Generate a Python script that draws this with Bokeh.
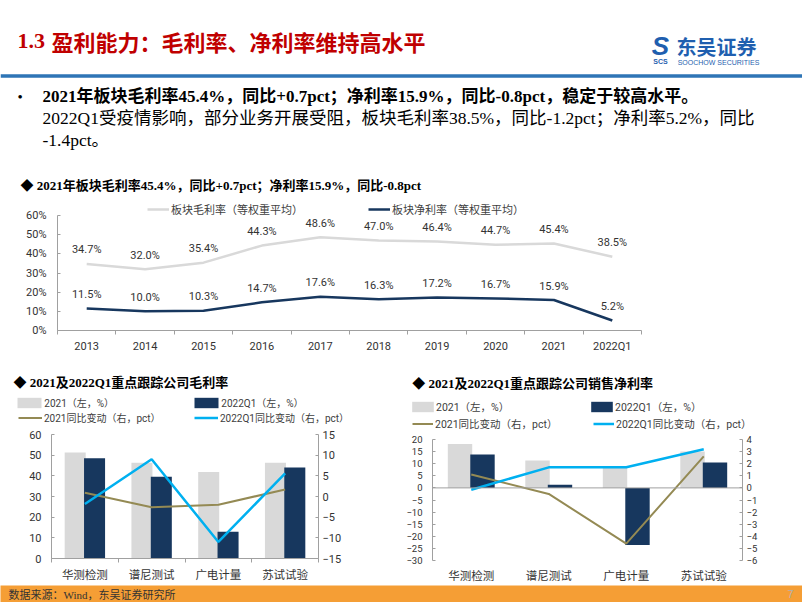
from bokeh.plotting import figure
from bokeh.models import (Range1d, LinearAxis, FixedTicker, PrintfTickFormatter, Label, LabelSet,
                          ColumnDataSource, Legend, LegendItem, Span)
from bokeh.layouts import column, row
from bokeh.transform import dodge
from bokeh.embed import file_html
from bokeh.resources import INLINE
from bokeh.core.properties import value

# ---------------- data ----------------
years = ["2013", "2014", "2015", "2016", "2017", "2018", "2019", "2020", "2021", "2022Q1"]
gross_margin = [34.7, 32.0, 35.4, 44.3, 48.6, 47.0, 46.4, 44.7, 45.4, 38.5]
net_margin = [11.5, 10.0, 10.3, 14.7, 17.6, 16.3, 17.2, 16.7, 15.9, 5.2]

companies = ["华测检测", "谱尼测试", "广电计量", "苏试试验"]
gm_2021 = [51.3, 46.3, 41.8, 46.3]
gm_2022q1 = [48.5, 39.5, 12.9, 44.0]
gm_2021_yoy = [0.9, -2.6, -2.0, 1.7]
gm_2022q1_yoy = [-1.8, 9.0, -11.0, 5.6]

nm_2021 = [18.1, 11.3, 8.2, 15.0]
nm_2022q1 = [13.8, 1.3, -23.6, 10.5]
nm_2021_yoy = [1.1, -0.5, -4.6, 2.6]
nm_2022q1_yoy = [-0.15, 1.7, 1.7, 3.2]

left_ticks_gm = [0, 10, 20, 30, 40, 50, 60]
right_ticks_gm = [-15, -10, -5, 0, 5, 10, 15]
left_ticks_nm = [-30, -25, -20, -15, -10, -5, 0, 5, 10, 15, 20]
right_ticks_nm = [-6, -5, -4, -3, -2, -1, 0, 1, 2, 3, 4]
pct_ticks = [0, 10, 20, 30, 40, 50, 60]

# ---------------- styles ----------------
SERIF = "'Liberation Serif', 'Noto Sans CJK SC'"
SANS = "Roboto, 'Noto Sans CJK SC'"
CJK = "'Noto Sans CJK SC'"
GRAY = "#D9D9D9"
NAVY = "#17375E"
OLIVE = "#948A54"
CYAN = "#00B0F0"
AXIS = "#A0A0A0"
TXT = "#333333"
ORANGE = "#F59E35"
NAN = float("nan")


def base_fig(w, h, xr, yr, **kw):
    f = figure(width=w, height=h, x_range=xr, y_range=yr, output_backend="svg",
               toolbar_location=None, x_axis_location=None, y_axis_location=None,
               frame_align=False, **kw)
    f.grid.visible = False
    f.outline_line_color = None
    f.background_fill_color = "white"
    f.border_fill_color = "white"
    return f


def lab(f, x, y, text, size, color="#000000", font=SERIF, style="normal", align="left"):
    f.add_layout(Label(x=x, y=y, text=text, text_font=font, text_font_size=size,
                       text_font_style=style, text_color=color, text_align=align,
                       text_baseline="middle"))


def style_axis(ax, size, font=SANS):
    ax.axis_line_color = AXIS
    ax.major_tick_line_color = AXIS
    ax.minor_tick_line_color = AXIS
    ax.major_label_text_font = font
    ax.major_label_text_font_size = size
    ax.major_label_text_color = TXT


def y_axis(ticks, size, standoff, **kw):
    ax = LinearAxis(ticker=FixedTicker(ticks=ticks), **kw)
    style_axis(ax, size)
    ax.major_tick_in = 3
    ax.major_tick_out = 0
    ax.minor_tick_in = 0
    ax.minor_tick_out = 0
    ax.major_label_standoff = standoff
    return ax


def x_axis(cats, size, standoff, show_line=True):
    centers = [i + 0.5 for i in range(len(cats))]
    bounds = [float(i) for i in range(len(cats) + 1)]
    ax = LinearAxis(ticker=FixedTicker(ticks=centers, minor_ticks=bounds if show_line else []))
    style_axis(ax, size)
    ax.major_label_overrides = {c: t for c, t in zip(centers, cats)}
    ax.major_tick_in = 0
    ax.major_tick_out = 0
    ax.minor_tick_in = 0
    ax.minor_tick_out = 4
    ax.major_label_standoff = standoff
    if not show_line:
        ax.axis_line_color = None
        ax.minor_tick_line_color = None
    return ax


def legend(items, loc, gw, gh, lw, standoff, size):
    return Legend(items=items, orientation="horizontal", location=loc, glyph_width=gw,
                  glyph_height=gh, label_height=gh, label_width=lw, label_standoff=standoff,
                  spacing=0, padding=0, margin=0, border_line_color=None,
                  background_fill_alpha=0, label_text_font=SANS, label_text_font_size=size,
                  label_text_color="#404040")


def legend_proxies(f):
    """Invisible (NaN) stand-ins so a text-only panel can carry the chart's legend swatches."""
    a = f.vbar(x=[NAN], top=[NAN], width=0.3, fill_color=GRAY, line_color=None)
    b = f.vbar(x=[NAN], top=[NAN], width=0.3, fill_color=NAVY, line_color=None)
    c = f.line(x=[NAN], y=[NAN], line_color=OLIVE, line_width=2)
    d = f.line(x=[NAN], y=[NAN], line_color=CYAN, line_width=2.5)
    return a, b, c, d


# ---------------- header (page y 0..195) ----------------
hdr = base_fig(802, 195, Range1d(0, 802), Range1d(195, 0), min_border=0)
lab(hdr, 17, 40, "1.3", "22px", "#C00000", "'Liberation Serif'", "bold")
lab(hdr, 51, 40, "盈利能力：毛利率、净利率维持高水平", "22px", "#C00000", CJK, "bold")
lab(hdr, 660, 45, "S", "26px", "#1F5FAF", "'Liberation Sans'", "bold italic", "center")
lab(hdr, 660, 60.5, "SCS", "7px", "#1F5FAF", "'Liberation Sans'", "bold", "center")
lab(hdr, 716, 45.5, "东吴证券", "20px", "#1F5FAF", CJK, "bold", "center")
lab(hdr, 718, 62, "SOOCHOW SECURITIES", "7px", "#1F5FAF", "'Liberation Sans'", "normal", "center")
hdr.add_layout(Span(location=75.5, dimension="width", line_color="#2E75B6", line_width=3.5))
lab(hdr, 17, 96, "•", "15px", "#000000")
lab(hdr, 42, 96, "2021年板块毛利率45.4%，同比+0.7pct；净利率15.9%，同比-0.8pct，稳定于较高水平。",
    "17px", "#000000", SERIF, "bold")
lab(hdr, 42, 117.5, "2022Q1受疫情影响，部分业务开展受阻，板块毛利率38.5%，同比-1.2pct；净利率5.2%，同比",
    "17.5px", "#000000")
lab(hdr, 42, 139.5, "-1.4pct。", "17.5px", "#000000")
lab(hdr, 20, 185, "◆ 2021年板块毛利率45.4%，同比+0.7pct；净利率15.9%，同比-0.8pct", "13px",
    "#000000", SERIF, "bold")

# ---------------- top line chart (page y 195..360) ----------------
top = base_fig(802, 165, Range1d(0, len(years)), Range1d(0, 67.83),
               min_border_left=57, min_border_right=161, min_border_top=5, min_border_bottom=30)
ya = y_axis(pct_ticks, "11px", 11)
ya.formatter = PrintfTickFormatter(format="%d%%")
ya.bounds = (0, 60)
top.add_layout(ya, "left")
top.add_layout(x_axis(years, "11px", 5), "below")

src_top = ColumnDataSource(dict(
    x=[i + 0.5 for i in range(len(years))], gross=gross_margin, net=net_margin,
    gross_lbl=[f"{v:.1f}%" for v in gross_margin], net_lbl=[f"{v:.1f}%" for v in net_margin]))
r_g = top.line("x", "gross", source=src_top, line_color=GRAY, line_width=2.5)
r_n = top.line("x", "net", source=src_top, line_color=NAVY, line_width=2.5)
for col, txt in (("gross", "gross_lbl"), ("net", "net_lbl")):
    top.add_layout(LabelSet(x="x", y=col, text=txt, source=src_top, y_offset=14,
                            text_align="center", text_baseline="middle", text_font=value(SANS),
                            text_font_size="11px", text_color=TXT))
top.add_layout(legend([LegendItem(label="板块毛利率（等权重平均）", renderers=[r_g]),
                       LegendItem(label="板块净利率（等权重平均）", renderers=[r_n])],
                      (90, 113.5), 22, 14, 197, 2, "11px"))

# ---------------- bottom left: gross margin (page x 0..400) ----------------
bl_txt = base_fig(400, 66, Range1d(0, 400), Range1d(426, 360), min_border=0)
lab(bl_txt, 13, 381.7, "◆ 2021及2022Q1重点跟踪公司毛利率", "13px", "#000000", SERIF, "bold")
pa, pb, pc, pd = legend_proxies(bl_txt)
bl_txt.add_layout(legend([LegendItem(label="2021（左，%）", renderers=[pa]),
                          LegendItem(label="2022Q1（左，%）", renderers=[pb])],
                         (14.3, 16.2), 30, 13, 147, 0, "10px"))
bl_txt.add_layout(legend([LegendItem(label="2021同比变动（右，pct）", renderers=[pc]),
                          LegendItem(label="2022Q1同比变动（右，pct）", renderers=[pd])],
                         (18, 1.2), 24, 13, 150, 2, "10px"))

bl = base_fig(400, 159, Range1d(0, len(companies)), Range1d(0, 60),
              min_border_left=51, min_border_right=82, min_border_top=8, min_border_bottom=27)
bl.extra_y_ranges = {"right": Range1d(-15, 15)}
bl.add_layout(y_axis(left_ticks_gm, "11px", 10), "left")
bl.add_layout(y_axis(right_ticks_gm, "11px", 4, y_range_name="right"), "right")
bl.add_layout(x_axis(companies, "11.5px", 5), "below")
src_bl = ColumnDataSource(dict(x=[i + 0.5 for i in range(len(companies))], a=gm_2021, b=gm_2022q1,
                               ya=gm_2021_yoy, yb=gm_2022q1_yoy))
bl.vbar(x=dodge("x", -0.145), top="a", width=0.315, source=src_bl, fill_color=GRAY, line_color=None)
bl.vbar(x=dodge("x", 0.145), top="b", width=0.315, source=src_bl, fill_color=NAVY, line_color=None)
bl.line("x", "ya", source=src_bl, y_range_name="right", line_color=OLIVE, line_width=2)
bl.line("x", "yb", source=src_bl, y_range_name="right", line_color=CYAN, line_width=2.5)

# ---------------- bottom right: net margin (page x 400..802) ----------------
br_txt = base_fig(402, 73, Range1d(400, 802), Range1d(433, 360), min_border=0)
lab(br_txt, 411.7, 382.7, "◆ 2021及2022Q1重点跟踪公司销售净利率", "13px", "#000000", SERIF, "bold")
qa, qb, qc, qd = legend_proxies(br_txt)
br_txt.add_layout(legend([LegendItem(label="2021（左，%）", renderers=[qa]),
                          LegendItem(label="2022Q1（左，%）", renderers=[qb])],
                         (9, 18.8), 27, 13, 152, 0, "10.5px"))
br_txt.add_layout(legend([LegendItem(label="2021同比变动（右，pct）", renderers=[qc]),
                          LegendItem(label="2022Q1同比变动（右，pct）", renderers=[qd])],
                         (12, 1.8), 21, 13, 158, 2, "10.5px"))

br = base_fig(402, 152, Range1d(0, len(companies)), Range1d(-30, 20),
              min_border_left=32, min_border_right=60, min_border_top=6, min_border_bottom=23)
br.extra_y_ranges = {"right": Range1d(-6, 4)}
br.add_layout(y_axis(left_ticks_nm, "9.5px", 10), "left")
br.add_layout(y_axis(right_ticks_nm, "9.5px", 4, y_range_name="right"), "right")
br.add_layout(x_axis(companies, "11.5px", 8, show_line=False), "below")
br.add_layout(Span(location=0, dimension="width", line_color=AXIS, line_width=1))
src_br = ColumnDataSource(dict(x=[i + 0.5 for i in range(len(companies))], a=nm_2021, b=nm_2022q1,
                               ya=nm_2021_yoy, yb=nm_2022q1_yoy))
br.vbar(x=dodge("x", -0.145), top="a", width=0.315, source=src_br, fill_color=GRAY, line_color=None)
br.vbar(x=dodge("x", 0.145), top="b", width=0.315, source=src_br, fill_color=NAVY, line_color=None)
br.line("x", "ya", source=src_br, y_range_name="right", line_color=OLIVE, line_width=2)
br.line("x", "yb", source=src_br, y_range_name="right", line_color=CYAN, line_width=2.5)

# ---------------- footer (page y 585..602) ----------------
foot = base_fig(802, 17, Range1d(0, 802), Range1d(602, 585), min_border=0)
foot.background_fill_color = ORANGE
foot.border_fill_color = ORANGE
lab(foot, 8, 594, "数据来源：Wind，东吴证券研究所", "11px", "#333333", SERIF)
lab(foot, 790, 593, "7", "11px", "#B0B0B0", "'Liberation Sans'", "normal", "center")

layout = column(hdr, top, row(column(bl_txt, bl), column(br_txt, br)), foot)
open("out.html", "w").write(file_html(layout, INLINE))
